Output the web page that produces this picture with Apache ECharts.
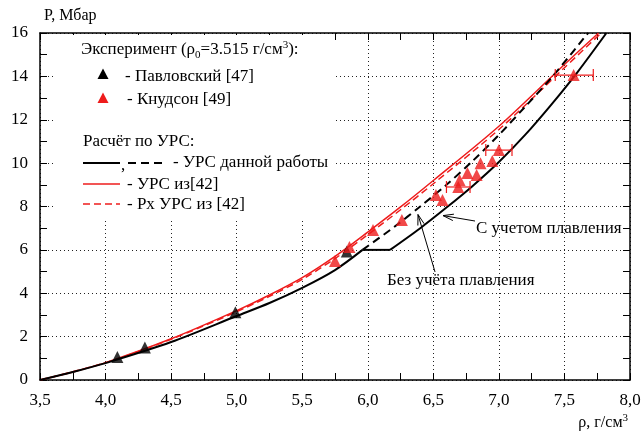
<!DOCTYPE html>
<html><head><meta charset="utf-8">
<script src="https://cdn.jsdelivr.net/npm/echarts/dist/echarts.min.js"></script>
<style>html,body{margin:0;padding:0;background:#fff}#c{width:641px;height:435px}</style>
</head><body><div id="c"></div>
<script>
const FONT = 'Liberation Serif';
const RED = '#ee1c1c';

// Experimental data: Pavlovsky [47] (black), Knudson [49] (red)
const pavlovsky = [[4.09,1.06],[4.30,1.50],[4.99,3.12],[5.84,5.92]];
const knudson = [[5.75,5.49],[5.86,6.13],[6.04,6.92],[6.26,7.38],[6.52,8.53],[6.57,8.30],
  [6.69,8.90],[6.70,9.22],[6.76,9.54],[6.83,9.45],[6.86,10.0],[6.95,10.1],[7.00,10.6],[7.57,14.06]];
// horizontal error bars: [x, y, xLow, xHigh]
const knudsonErr = [[7.575,14.06,7.43,7.72],[7.00,10.6,6.90,7.10],[6.69,8.90,6.60,6.78]];

// EOS of this work, with melting (solid black), split at the melting plateau
const eosMeltLow = [[3.5,0],[3.75,0.37],[4.0,0.78],[4.5,1.75],[5.0,2.95],[5.25,3.55],[5.5,4.25],[5.75,5.07],[5.96,6.0]];
const eosMeltPlateau = [[5.96,6.0],[6.17,6.0]];
const eosMeltHigh = [[6.17,6.0],[6.4,7.0],[6.6,7.95],[6.8,8.95],[7.0,10.05],[7.2,11.3],[7.4,12.7],[7.6,14.2],[7.82,16.0]];
// EOS of this work, without melting (dashed black)
const eosNoMelt = [[5.96,6.0],[6.2,7.05],[6.4,8.0],[6.6,9.0],[6.8,10.1],[7.0,11.3],[7.2,12.6],[7.41,14.0],[7.68,16.0]];
// EOS from [42] (solid red) and Px EOS from [42] (dashed red)
const eos42 = [[3.5,0],[3.75,0.37],[4.0,0.8],[4.5,1.9],[5.0,3.2],[5.25,3.92],[5.5,4.72],[5.75,5.7],[6.0,6.82],[6.25,7.98],[6.5,9.2],[7.0,11.7],[7.5,14.55],[7.76,16.0]];
const eos42Px = [[3.5,0],[4.0,0.8],[4.5,1.88],[5.0,3.15],[5.25,3.86],[5.5,4.64],[5.75,5.6],[6.0,6.7],[6.25,7.85],[6.5,9.05],[7.0,11.55],[7.5,14.4],[7.78,16.0]];

// annotation arrows (tail -> tip) in data units
const arrowMelt = [[6.818,7.33],[6.574,7.58]];
const arrowNoMelt = [[6.513,4.98],[6.383,7.63]];

const chart = echarts.init(document.getElementById('c'), null, {renderer:'canvas'});

const axisCommon = {
  min: 3.5, max: 8.0, interval: 0.5,
  axisLine: {show:true, onZero:false, lineStyle:{color:'#000', width:1.5}},
  axisTick: {show:true, inside:true, length:7, lineStyle:{color:'#000', width:1}},
  minorTick: {show:true, splitNumber:2, length:7, lineStyle:{color:'#000', width:1}},
};
const yCommon = {
  min: 0, max: 16, interval: 2,
  axisLine: {show:true, onZero:false, lineStyle:{color:'#000', width:1.5}},
  axisTick: {show:true, inside:true, length:7, lineStyle:{color:'#000', width:1}},
  minorTick: {show:true, splitNumber:2, length:7, lineStyle:{color:'#000', width:1}},
};

function lineSeries(data, color, width, type, smooth){
  return {type:'line', data, showSymbol:false, symbol:'none', smooth: smooth,
    lineStyle:{color, width, type}, silent:true, z:3};
}

chart.setOption({
  animation:false,
  backgroundColor:'#fff',
  textStyle:{fontFamily:FONT},
  grid:{left:40, right:11, top:33, bottom:55, outerBoundsMode:'none', containLabel:false},
  xAxis:[
    Object.assign({type:'value', position:'bottom',
      axisLabel:{show:true, fontFamily:FONT, fontSize:17, color:'#000', margin:12,
        formatter:v=>v.toFixed(1).replace('.',',')},
      splitLine:{show:true, lineStyle:{type:[1,3], color:'#222', width:1}}}, axisCommon),
    Object.assign({type:'value', position:'top', axisLabel:{show:false}, splitLine:{show:false}}, axisCommon)
  ],
  yAxis:[
    Object.assign({type:'value', position:'left',
      axisLabel:{show:true, fontFamily:FONT, fontSize:17, color:'#000', margin:12},
      splitLine:{show:true, lineStyle:{type:[1,3], color:'#222', width:1}}}, yCommon),
    Object.assign({type:'value', position:'right', axisLabel:{show:false}, splitLine:{show:false}}, yCommon)
  ],
  series:[
    lineSeries(eos42, RED, 1.5, 'solid', 0.3),
    lineSeries(eos42Px, RED, 1.5, [7,4], 0.3),
    lineSeries(eosMeltLow, '#000', 2, 'solid', 0.3),
    lineSeries(eosMeltPlateau, '#000', 2, 'solid', false),
    lineSeries(eosMeltHigh, '#000', 2, 'solid', 0.3),
    lineSeries(eosNoMelt, '#000', 2, [8,5], 0.3),
    {type:'custom', data:knudsonErr, encode:{x:[0,2,3], y:1}, z:4, silent:true,
      renderItem:(params, api)=>{
        const y = api.value(1);
        const p1 = api.coord([api.value(2), y]);
        const p2 = api.coord([api.value(3), y]);
        const cap = 6, st = {stroke:RED, lineWidth:1.2};
        return {type:'group', children:[
          {type:'line', shape:{x1:p1[0],y1:p1[1],x2:p2[0],y2:p2[1]}, style:st},
          {type:'line', shape:{x1:p1[0],y1:p1[1]-cap,x2:p1[0],y2:p1[1]+cap}, style:st},
          {type:'line', shape:{x1:p2[0],y1:p2[1]-cap,x2:p2[0],y2:p2[1]+cap}, style:st}
        ]};
      }},
    {type:'scatter', data:pavlovsky, symbol:'triangle', symbolSize:12, itemStyle:{color:'#000'}, z:5, silent:true},
    {type:'scatter', data:knudson, symbol:'triangle', symbolSize:12, itemStyle:{color:RED}, z:6, silent:true}
  ]
});

function px(p){ return chart.convertToPixel({gridIndex:0}, p); }
function arrowEls(a){
  const t = px(a[0]), h = px(a[1]);
  const ang = Math.atan2(t[1]-h[1], t[0]-h[0]);
  const L = 11, w = 0.3;
  const st = {stroke:'#000', lineWidth:1};
  return [
    {type:'line', shape:{x1:t[0],y1:t[1],x2:h[0],y2:h[1]}, style:st, z:10},
    {type:'line', shape:{x1:h[0],y1:h[1],x2:h[0]+L*Math.cos(ang+w),y2:h[1]+L*Math.sin(ang+w)}, style:st, z:10},
    {type:'line', shape:{x1:h[0],y1:h[1],x2:h[0]+L*Math.cos(ang-w),y2:h[1]+L*Math.sin(ang-w)}, style:st, z:10}
  ];
}
function txt(x, y, text, extra){
  return {type:'text', x, y, z:10, style:Object.assign({text, fontFamily:FONT, fontSize:17, fill:'#000',
    verticalAlign:'middle', align:'left'}, extra||{})};
}
function tri(cx, cy, color){
  return {type:'polygon', z:10, shape:{points:[[cx,cy-5.5],[cx-5.5,cy+5],[cx+5.5,cy+5]]}, style:{fill:color}};
}
function seg(x1,x2,y,color,width,dash){
  return {type:'line', z:10, shape:{x1,y1:y,x2,y2:y}, style:{stroke:color, lineWidth:width, lineDash:dash||null}};
}

const rich = {
  sub:{fontFamily:FONT, fontSize:11, verticalAlign:'bottom', padding:[10,0,0,0]},
  sup:{fontFamily:FONT, fontSize:11, verticalAlign:'top', padding:[0,0,10,0]}
};

const graphics = [
  {type:'rect', z:1, shape:{x:55, y:35, width:278, height:183}, style:{fill:'#fff'}},
  txt(81, 50, 'Эксперимент (ρ{sub|0}=3.515 г/см{sup|3}):', {rich}),
  tri(103, 74, '#000'),
  txt(125, 77, '- Павловский [47]'),
  tri(103, 98, RED),
  txt(127, 100, '- Кнудсон [49]'),
  txt(83, 142, 'Расчёт по УРС:'),
  seg(83, 120, 163, '#000', 2),
  txt(121, 166, ','),
  seg(128, 167, 163, '#000', 2, [8,5]),
  txt(173, 163, '- УРС данной работы'),
  seg(83, 120, 184, RED, 1.5),
  txt(127, 185, '- УРС из[42]'),
  seg(83, 120, 204, RED, 1.5, [7,4]),
  txt(127, 205, '- Рх УРС из [42]'),
  txt(44, 16, 'P, Мбар', {fontSize:16}),
  txt(628, 423, 'ρ, г/см{sup|3}', {align:'right', fontSize:16, rich}),
  txt(476, 229, 'С учетом плавления'),
  txt(387, 281, 'Без учёта плавления')
].concat(arrowEls(arrowMelt), arrowEls(arrowNoMelt));

chart.setOption({graphic: graphics});
</script>
</body></html>
